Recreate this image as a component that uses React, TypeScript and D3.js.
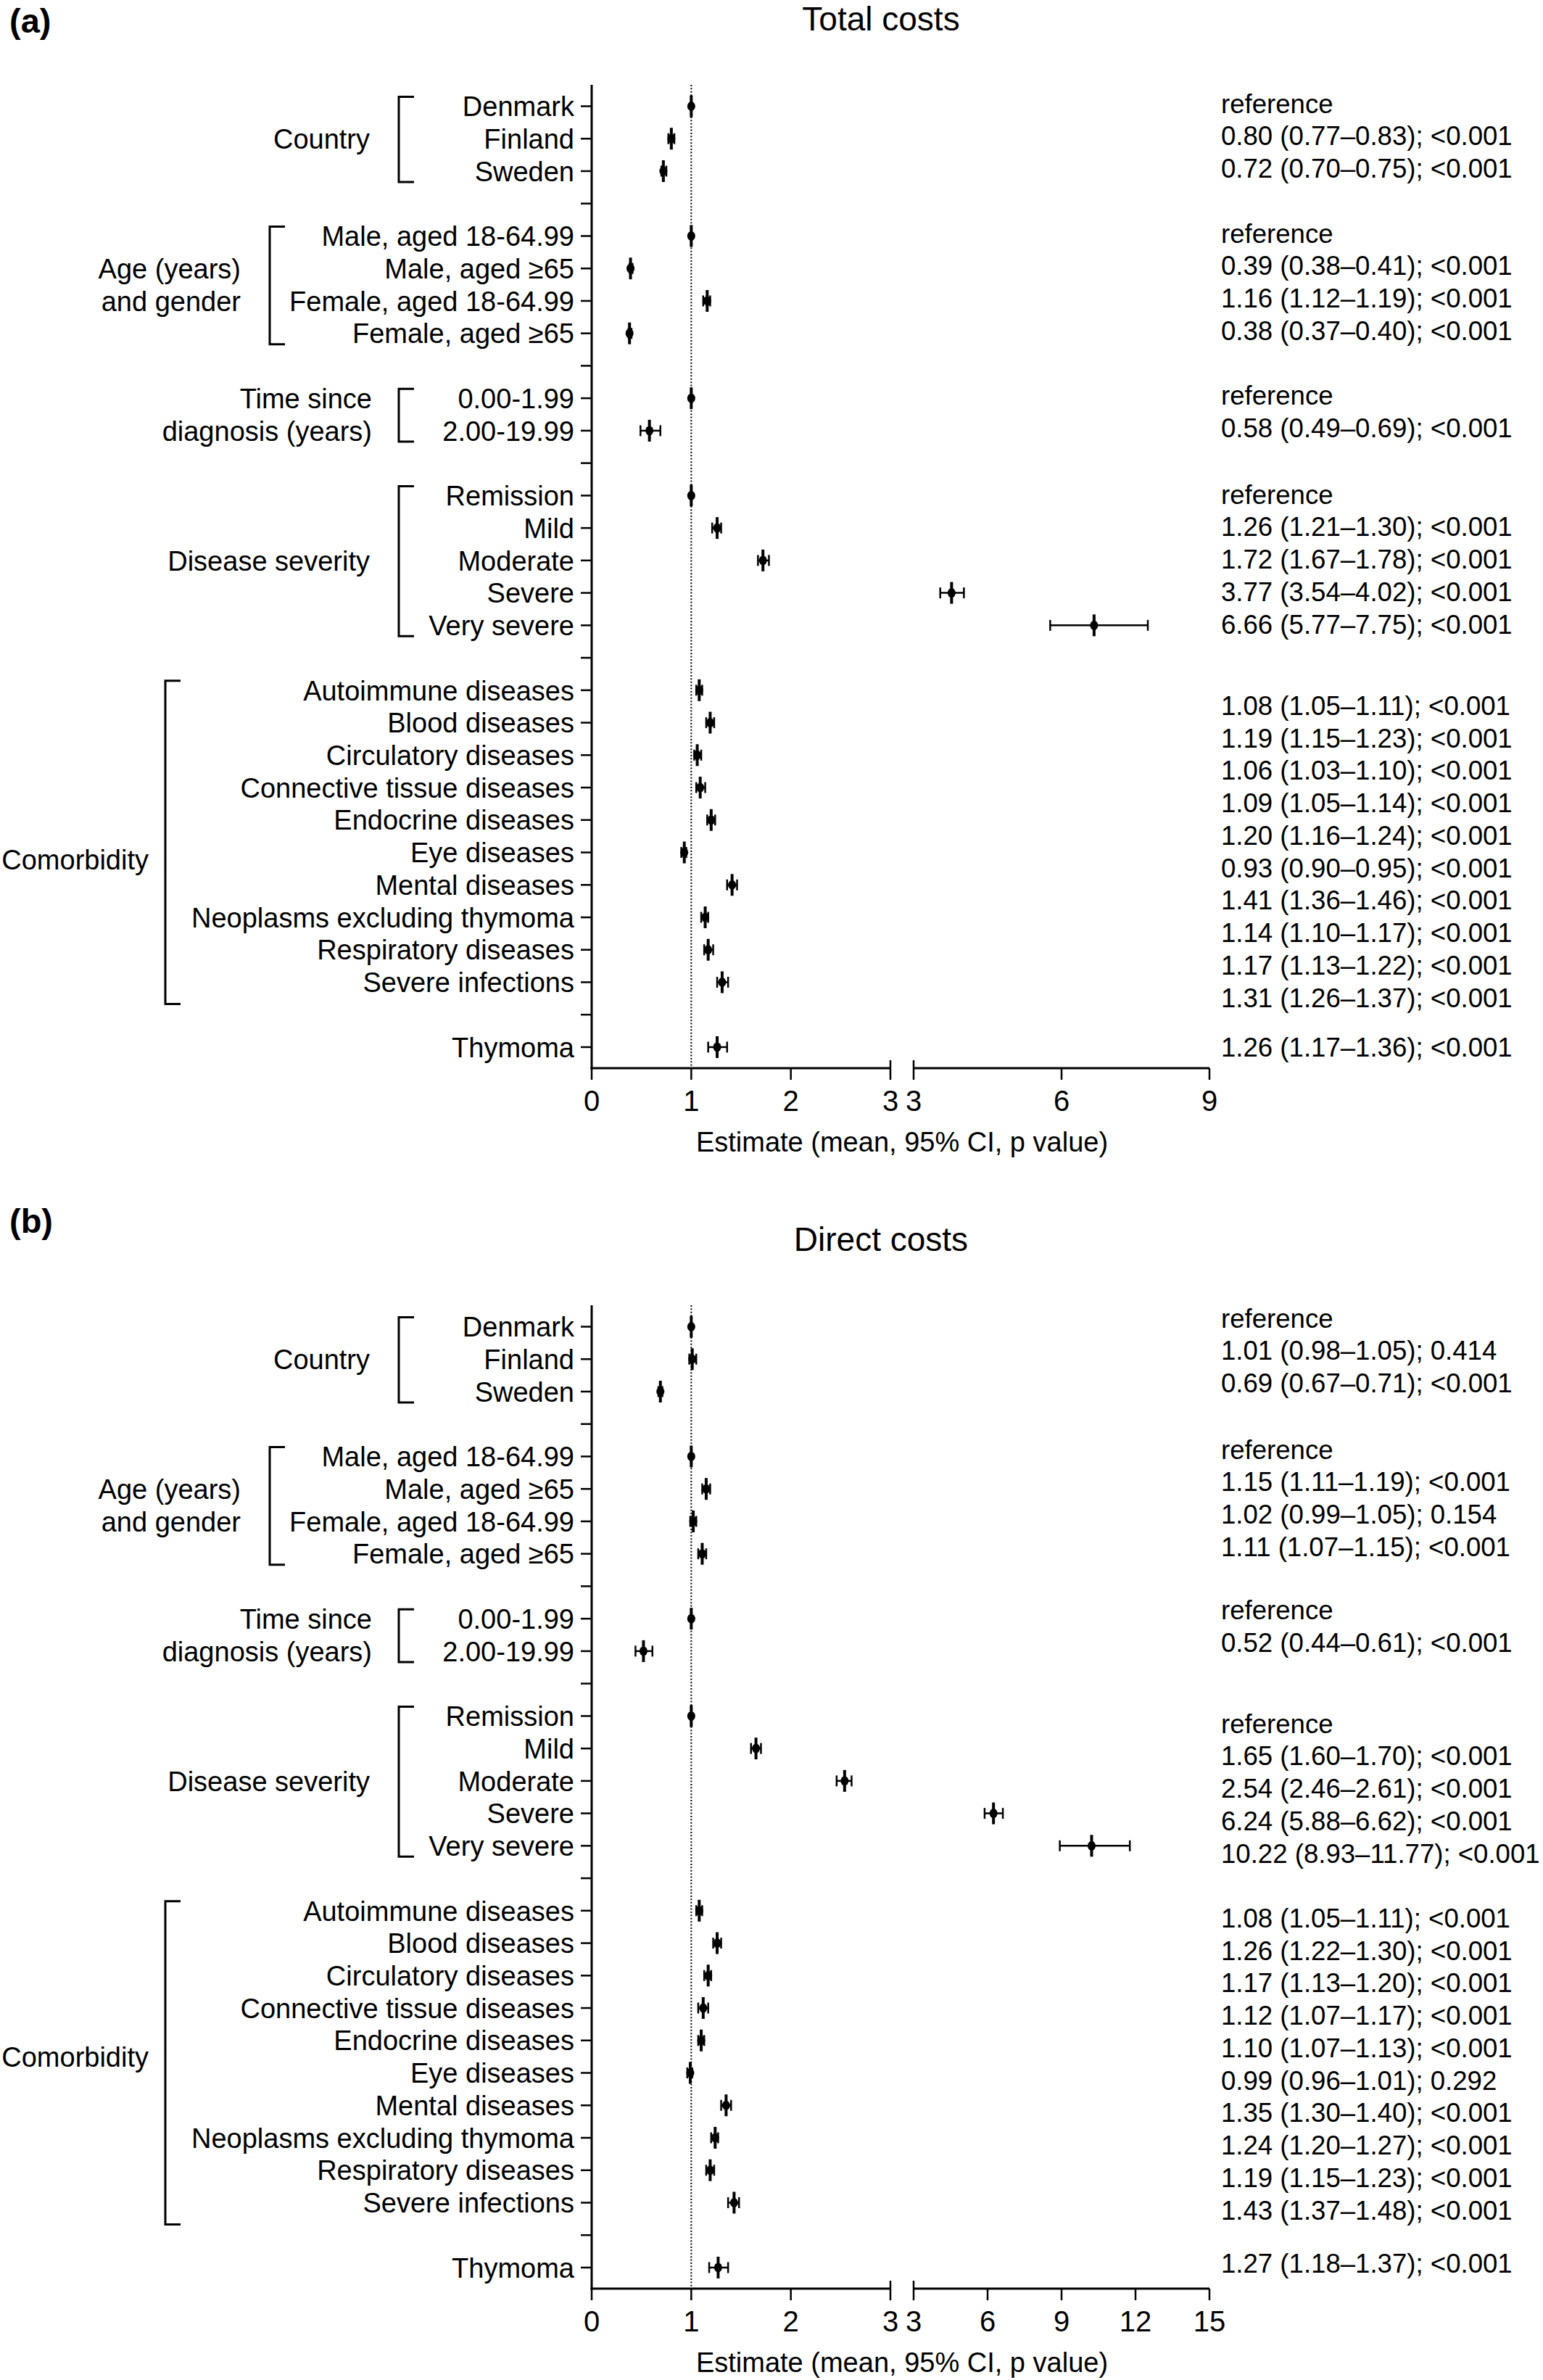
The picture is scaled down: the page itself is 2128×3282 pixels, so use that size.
import React from "react";
import * as d3 from "d3";

// ---------- data ----------
const countryRows = ["Denmark", "Finland", "Sweden"];
const ageRows = ["Male, aged 18-64.99", "Male, aged ≥65", "Female, aged 18-64.99", "Female, aged ≥65"];
const timeRows = ["0.00-1.99", "2.00-19.99"];
const severityRows = ["Remission", "Mild", "Moderate", "Severe", "Very severe"];
const comorbidityRows = [
  "Autoimmune diseases",
  "Blood diseases",
  "Circulatory diseases",
  "Connective tissue diseases",
  "Endocrine diseases",
  "Eye diseases",
  "Mental diseases",
  "Neoplasms excluding thymoma",
  "Respiratory diseases",
  "Severe infections",
];
const thymomaRows = ["Thymoma"];
const rowGroups = [countryRows, ageRows, timeRows, severityRows, comorbidityRows, thymomaRows];
const groupTitles = [
  ["Country"],
  ["Age (years)", "and gender"],
  ["Time since", "diagnosis (years)"],
  ["Disease severity"],
  ["Comorbidity"],
  [],
];

// Total costs (panel a); null = reference category
const totalEst = [1, 0.8, 0.72, 1, 0.39, 1.16, 0.38, 1, 0.58, 1, 1.26, 1.72, 3.77, 6.66, 1.08, 1.19, 1.06, 1.09, 1.2, 0.93, 1.41, 1.14, 1.17, 1.31, 1.26];
const totalLo = [null, 0.77, 0.7, null, 0.38, 1.12, 0.37, null, 0.49, null, 1.21, 1.67, 3.54, 5.77, 1.05, 1.15, 1.03, 1.05, 1.16, 0.9, 1.36, 1.1, 1.13, 1.26, 1.17];
const totalHi = [null, 0.83, 0.75, null, 0.41, 1.19, 0.4, null, 0.69, null, 1.3, 1.78, 4.02, 7.75, 1.11, 1.23, 1.1, 1.14, 1.24, 0.95, 1.46, 1.17, 1.22, 1.37, 1.36];
const totalP = [null, "<0.001", "<0.001", null, "<0.001", "<0.001", "<0.001", null, "<0.001", null, "<0.001", "<0.001", "<0.001", "<0.001", "<0.001", "<0.001", "<0.001", "<0.001", "<0.001", "<0.001", "<0.001", "<0.001", "<0.001", "<0.001", "<0.001"];

// Direct costs (panel b)
const directEst = [1, 1.01, 0.69, 1, 1.15, 1.02, 1.11, 1, 0.52, 1, 1.65, 2.54, 6.24, 10.22, 1.08, 1.26, 1.17, 1.12, 1.1, 0.99, 1.35, 1.24, 1.19, 1.43, 1.27];
const directLo = [null, 0.98, 0.67, null, 1.11, 0.99, 1.07, null, 0.44, null, 1.6, 2.46, 5.88, 8.93, 1.05, 1.22, 1.13, 1.07, 1.07, 0.96, 1.3, 1.2, 1.15, 1.37, 1.18];
const directHi = [null, 1.05, 0.71, null, 1.19, 1.05, 1.15, null, 0.61, null, 1.7, 2.61, 6.62, 11.77, 1.11, 1.3, 1.2, 1.17, 1.13, 1.01, 1.4, 1.27, 1.23, 1.48, 1.37];
const directP = [null, "0.414", "<0.001", null, "<0.001", "0.154", "<0.001", null, "<0.001", null, "<0.001", "<0.001", "<0.001", "<0.001", "<0.001", "<0.001", "<0.001", "<0.001", "<0.001", "0.292", "<0.001", "<0.001", "<0.001", "<0.001", "<0.001"];

const leftTicks = [0, 1, 2, 3];
const totalRightTicks = [3, 6, 9];
const directRightTicks = [3, 6, 9, 12, 15];

// ---------- layout ----------
const W = 2128;
const H = 3282;
const FONT = "'Liberation Sans', Arial, Helvetica, sans-serif";
const AXIS_X = 816;
const SLOT = 44.74;
const ROW0 = 146.5;
const BRACKET_X = [550, 372, 550, 550, 228, 0];
const LABEL_RIGHT = [510, 332, 513, 510, 205, 0];

function buildRows() {
  const rows: { label: string; slot: number; group: number }[] = [];
  const groups: { start: number; end: number }[] = [];
  let slot = 0;
  rowGroups.forEach((g, gi) => {
    const start = slot;
    g.forEach((label) => {
      rows.push({ label, slot, group: gi });
      slot += 1;
    });
    groups.push({ start, end: slot - 1 });
    slot += 1; // gap
  });
  return { rows, groups, nSlots: slot - 1 };
}

type PanelProps = {
  offsetY: number;
  title: string;
  tag: string;
  tagBaseline: number;
  est: number[];
  lo: (number | null)[];
  hi: (number | null)[];
  p: (string | null)[];
  rightMax: number;
  rightTicks: number[];
  textOffsets: number[];
  groupLabelOffsets: number[];
};

function Panel(props: PanelProps) {
  const { offsetY, title, tag, tagBaseline, est, lo, hi, p, rightMax, rightTicks, textOffsets, groupLabelOffsets } = props;
  const { rows, groups, nSlots } = buildRows();
  const y = d3.scaleLinear().domain([0, nSlots - 1]).range([offsetY + ROW0, offsetY + ROW0 + (nSlots - 1) * SLOT]);
  const xL = d3.scaleLinear().domain([0, 3]).range([AXIS_X, 1228]);
  const xR = d3.scaleLinear().domain([3, rightMax]).range([1260, 1668]);
  const xv = (v: number) => (v <= 3 ? xL(v) : xR(v));
  const axisTop = y(-0.66);
  const axisY = y(nSlots - 1 + 0.65);
  const fmt = d3.format(".2f");

  return (
    <g>
      <text x={13} y={tagBaseline} fontFamily={FONT} fontWeight="bold" fontSize={47}>
        {tag}
      </text>
      <text x={1215} y={offsetY + 42} textAnchor="middle" fontFamily={FONT} fontSize={46}>
        {title}
      </text>

      {/* reference line at 1 */}
      <line x1={xL(1)} x2={xL(1)} y1={axisTop} y2={axisY} stroke="#000" strokeWidth={2} strokeDasharray="2,2.4" />

      {/* y axis */}
      <line x1={AXIS_X} x2={AXIS_X} y1={axisTop} y2={axisY + 1.5} stroke="#000" strokeWidth={3} />
      {d3.range(nSlots).map((s) => (
        <line key={"yt" + s} x1={AXIS_X - 15} x2={AXIS_X} y1={y(s)} y2={y(s)} stroke="#000" strokeWidth={2.5} />
      ))}
      {rows.map((r) => (
        <text key={"rl" + r.slot} x={792} y={y(r.slot)} dy="0.36em" textAnchor="end" fontFamily={FONT} fontSize={38}>
          {r.label}
        </text>
      ))}

      {/* brackets and group labels */}
      {groups.map((g, gi) => {
        if (!groupTitles[gi].length) return null;
        const bx = BRACKET_X[gi];
        const top = y(g.start) - 13;
        const bot = y(g.end) + (gi === 4 ? 30 : 15);
        const center = (g.start + g.end) / 2 + groupLabelOffsets[gi];
        const lines = groupTitles[gi];
        return (
          <g key={"br" + gi}>
            <path d={`M${bx + 21},${top}H${bx}V${bot}H${bx + 21}`} fill="none" stroke="#000" strokeWidth={3} />
            {lines.map((t, li) => (
              <text
                key={li}
                x={LABEL_RIGHT[gi]}
                y={y(center - (lines.length - 1) / 2 + li)}
                dy="0.36em"
                textAnchor="end"
                fontFamily={FONT}
                fontSize={38}
              >
                {t}
              </text>
            ))}
          </g>
        );
      })}

      {/* x axis (broken) */}
      <line x1={AXIS_X - 1.5} x2={xL(3)} y1={axisY} y2={axisY} stroke="#000" strokeWidth={3} />
      <line x1={xR(3)} x2={xR(rightMax)} y1={axisY} y2={axisY} stroke="#000" strokeWidth={3} />
      {leftTicks.map((t) => (
        <g key={"lt" + t}>
          <line x1={xL(t)} x2={xL(t)} y1={t === 3 ? axisY - 11 : axisY} y2={axisY + 16} stroke="#000" strokeWidth={2.5} />
          <text x={xL(t)} y={axisY + 59} textAnchor="middle" fontFamily={FONT} fontSize={40}>
            {t}
          </text>
        </g>
      ))}
      {rightTicks.map((t) => (
        <g key={"rt" + t}>
          <line x1={xR(t)} x2={xR(t)} y1={t === 3 ? axisY - 11 : axisY} y2={axisY + 16} stroke="#000" strokeWidth={2.5} />
          <text x={xR(t)} y={axisY + 59} textAnchor="middle" fontFamily={FONT} fontSize={40}>
            {t}
          </text>
        </g>
      ))}
      <text x={1244} y={axisY + 115} textAnchor="middle" fontFamily={FONT} fontSize={38}>
        Estimate (mean, 95% CI, p value)
      </text>

      {/* estimates */}
      {rows.map((r, i) => {
        const cy = y(r.slot);
        const cx = xv(est[i]);
        const l = lo[i];
        const h = hi[i];
        return (
          <g key={"m" + i}>
            {l !== null && h !== null && (
              <g>
                <line x1={xv(l)} x2={xv(h)} y1={cy} y2={cy} stroke="#000" strokeWidth={2.5} />
                <line x1={xv(l)} x2={xv(l)} y1={cy - 7.5} y2={cy + 7.5} stroke="#000" strokeWidth={2.5} />
                <line x1={xv(h)} x2={xv(h)} y1={cy - 7.5} y2={cy + 7.5} stroke="#000" strokeWidth={2.5} />
              </g>
            )}
            <line x1={cx} x2={cx} y1={cy - 15} y2={cy + 15} stroke="#000" strokeWidth={4} />
            <ellipse cx={cx} cy={cy} rx={5.5} ry={6.5} fill="#000" />
          </g>
        );
      })}

      {/* value text */}
      {rows.map((r, i) => {
        const l = lo[i];
        const h = hi[i];
        const txt = l === null || h === null ? "reference" : `${fmt(est[i])} (${fmt(l)}–${fmt(h)}); ${p[i]}`;
        return (
          <text key={"vt" + i} x={1684} y={y(r.slot) + textOffsets[r.group]} dy="0.36em" fontFamily={FONT} fontSize={36.6}>
            {txt}
          </text>
        );
      })}
    </g>
  );
}

export default function App() {
  return (
    <svg
      width={W}
      height={H}
      viewBox={`0 0 ${W} ${H}`}
      style={{ position: "absolute", left: 0, top: 0, background: "#fff" }}
    >
      <rect x={0} y={0} width={W} height={H} fill="#fff" />
      <Panel
        offsetY={0}
        title="Total costs"
        tag="(a)"
        tagBaseline={45}
        est={totalEst}
        lo={totalLo}
        hi={totalHi}
        p={totalP}
        rightMax={9}
        rightTicks={totalRightTicks}
        textOffsets={[-4, -4, -4, -2, 21, 0]}
        groupLabelOffsets={[0, 0, 0, 0, 0.73, 0]}
      />
      <Panel
        offsetY={1683}
        title="Direct costs"
        tag="(b)"
        tagBaseline={1700}
        est={directEst}
        lo={directLo}
        hi={directHi}
        p={directP}
        rightMax={15}
        rightTicks={directRightTicks}
        textOffsets={[-12, -10, -12, 10, 10, -6]}
        groupLabelOffsets={[0, 0, 0, 0, 0, 0]}
      />
    </svg>
  );
}
